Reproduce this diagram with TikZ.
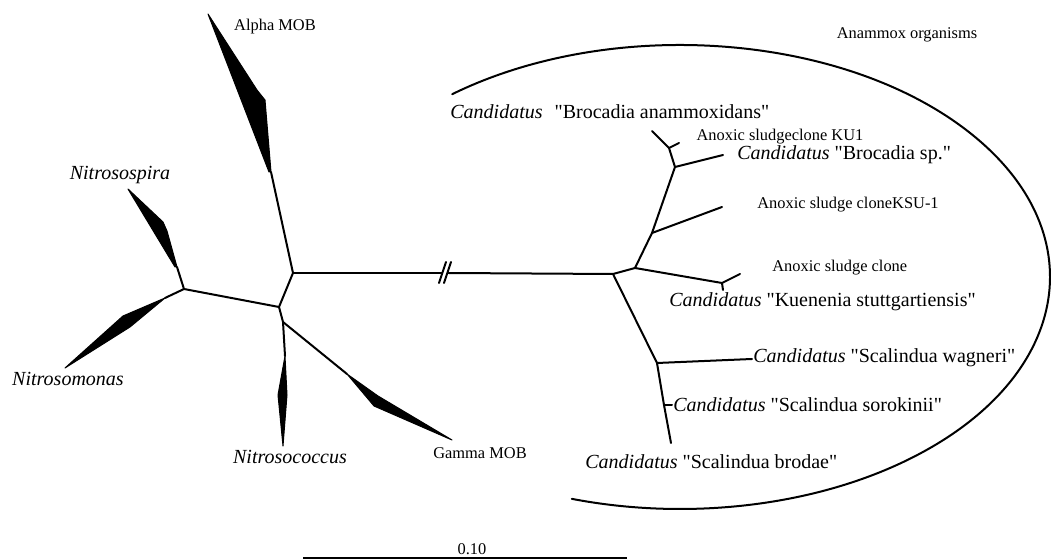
\documentclass[tikz,border=0pt]{standalone}
\usepackage{fontspec}
\setmainfont{Liberation Serif}[Ligatures=TeXOff]
\newcommand{\candid}{\textit{Candidatus}}
\begin{document}
\begin{tikzpicture}[x=0.5pt, y=-0.5pt,
    branch/.style={line width=1pt, line cap=round, line join=round},
    wedge/.style={fill=black, draw=black, line width=0.5pt, line join=round},
    biglabel/.style={inner sep=0pt, anchor=west, font=\fontsize{10}{12}\selectfont},
    smalllabel/.style={inner sep=0pt, font=\fontsize{8.2}{10}\selectfont},
    genus/.style={inner sep=0pt, font=\fontsize{10}{12}\selectfont\itshape}]
    \useasboundingbox (0,0) rectangle (1051,560);
    % junctions and leaf ends
    \foreach \nm/\px/\py in {nA/293/273, nC/279/307, nD/184/289, nE/283/322,
        alphaB/271/172, spiraB/177/267, monasB/165/298, coccusB/285/356, gammaB/347/374,
        brkL/442/273, brkR/448/273,
        nB/613/274, nF/635/268, nH/652/233, nI/675/167, nJ/669/148,
        lJa/652/131, lJb/679/143, lI/723/155, lH/722/207,
        nK/722/283, lKa/740/274, lKb/723/290,
        nG/657/363, lG/752/359, nL/664/405, lL/672/405, lG2/671/443,
        ellC/680/277, barL/303/558, barR/627/558}
        \coordinate (\nm) at (\px,\py);
    % outgroup wedges
    \filldraw[wedge] (208,14) -- (257,90) -- (265,100) -- (alphaB) -- (269,172) -- cycle;
    \filldraw[wedge] (128,189) -- (163,222) -- (167,231) -- (spiraB) -- (175,267) -- cycle;
    \filldraw[wedge] (monasB) -- (123,316) -- (65,368) -- (130,327) -- cycle;
    \filldraw[wedge] (coccusB) -- (278,395) -- (283,446) -- (287,395) -- cycle;
    \filldraw[wedge] (gammaB) -- (378,396) -- (452,440) -- (374,406) -- cycle;
    % branches
    \foreach \a/\b in {alphaB/nA, nA/nC, nC/nD, nD/spiraB, nD/monasB, nC/nE,
        nE/coccusB, nE/gammaB, nA/brkL, brkR/nB,
        nB/nF, nF/nH, nH/nI, nI/nJ, nJ/lJa, nJ/lJb, nI/lI, nH/lH,
        nF/nK, nK/lKa, nK/lKb, nB/nG, nG/lG, nG/nL, nL/lG2, nL/lL}
        \draw[branch] (\a) -- (\b);
    % break marks
    \draw[branch] (439,283) -- (446,262);
    \draw[branch] (444,283) -- (451,262);
    % anammox ellipse
    \draw[branch] (ellC) ++(-128:370 and 232) arc[start angle=-128, end angle=107, x radius=370, y radius=232];
    % labels
    \node[smalllabel] (alphaT) at (275,27) {Alpha MOB};
    \node[genus] (spiraT) at (120,175) {Nitrosospira};
    \node[genus] (monasT) at (68,379) {Nitrosomonas};
    \node[genus] (coccusT) at (290,457) {Nitrosococcus};
    \node[smalllabel] (gammaT) at (480,453) {Gamma MOB};
    \node[smalllabel] (anaT) at (907,35) {Anammox organisms};
    \node[smalllabel] (ku1T) at (780,137) {Anoxic sludgeclone KU1};
    \node[smalllabel, anchor=west] (ksuT) at (757,205) {Anoxic sludge cloneKSU-1};
    \node[smalllabel, anchor=west] (cloneT) at (772,268) {Anoxic sludge clone};
    \node[biglabel] (anamT) at (450,112) {\candid\hspace{0.6em}"Brocadia anammoxidans"};
    \node[biglabel] (brocT) at (737,155) {\candid{} "Brocadia sp."};
    \node[biglabel] (kuenT) at (669,302) {\candid{} "Kuenenia stuttgartiensis"};
    \node[biglabel] (wagT) at (753,358) {\candid{} "Scalindua wagneri"};
    \node[biglabel] (soroT) at (673,405) {\candid{} "Scalindua sorokinii"};
    \node[biglabel] (brodT) at (585,462) {\candid{} "Scalindua brodae"};
    % scale bar
    \draw[line width=1.2pt] (barL) -- (barR);
    \node[smalllabel] (barT) at (472,549) {0.10};
\end{tikzpicture}
\end{document}
